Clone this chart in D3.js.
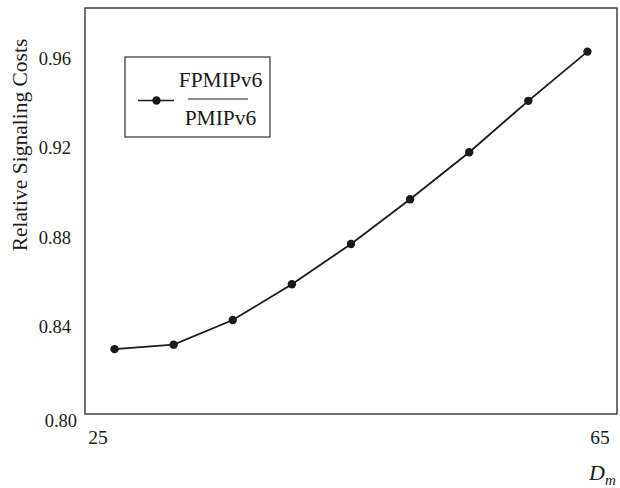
<!DOCTYPE html>
<html>
<head>
<meta charset="utf-8">
<script src="https://cdn.jsdelivr.net/npm/d3@7"></script>
<style>
  html, body { margin: 0; padding: 0; background: #fff; }
  svg { display: block; font-family: "Liberation Serif", "Times New Roman", serif; }
</style>
</head>
<body>
<svg id="chart" width="620" height="488"></svg>
<script>
// ---- data ----
const dmValues = [25, 30, 35, 40, 45, 50, 55, 60, 65];
const relativeCost = [0.829, 0.831, 0.842, 0.858, 0.876, 0.896, 0.917, 0.940, 0.962];
const yTickValues = [0.80, 0.84, 0.88, 0.92, 0.96];
const xTickValues = [25, 65];
const legendNumerator = "FPMIPv6";
const legendDenominator = "PMIPv6";
const yAxisTitle = "Relative Signaling Costs";

// ---- layout ----
const frame = { left: 85, right: 617, top: 8, bottom: 414 };
const svg = d3.select("#chart");
const ink = "#1a1a1a";

const x = d3.scaleLinear().domain([22.5, 67.5]).range([frame.left, frame.right]);
const y = d3.scaleLinear().domain([0.80, 0.9815]).range([frame.bottom, frame.top]);

// frame
svg.append("rect")
  .attr("x", frame.left).attr("y", frame.top)
  .attr("width", frame.right - frame.left).attr("height", frame.bottom - frame.top)
  .attr("fill", "none").attr("stroke", "#333").attr("stroke-width", 1.4);

// y axis
const yAxis = svg.append("g")
  .attr("transform", `translate(${frame.left},0)`)
  .call(d3.axisLeft(y).tickValues(yTickValues).tickFormat(d3.format(".2f")).tickSize(0).tickPadding(14));
yAxis.select(".domain").remove();
yAxis.selectAll("text")
  .attr("font-family", "Liberation Serif, serif")
  .attr("font-size", 18.5).attr("fill", ink)
  .attr("dy", d => d === 0.80 ? "0.65em" : "0.45em")
  .attr("x", d => d === 0.80 ? -8 : -14);

// x axis
const xAxis = svg.append("g")
  .attr("transform", `translate(0,${frame.bottom})`)
  .call(d3.axisBottom(x).tickValues(xTickValues).tickFormat(d3.format("d")).tickSize(0).tickPadding(16));
xAxis.select(".domain").remove();
xAxis.selectAll("text")
  .attr("font-family", "Liberation Serif, serif")
  .attr("font-size", 19.5).attr("fill", ink)
  .attr("x", d => d === 25 ? -17 : 12);

// y title
svg.append("text")
  .attr("transform", "translate(27,145) rotate(-90)")
  .attr("text-anchor", "middle")
  .attr("font-size", 21.5).attr("fill", ink)
  .text(yAxisTitle);

// x title D_m
const xt = svg.append("text")
  .attr("x", 589).attr("y", 480)
  .attr("font-style", "italic").attr("font-size", 22).attr("fill", ink);
xt.append("tspan").text("D");
xt.append("tspan").attr("font-size", 15).attr("dy", 5).text("m");

// line
const pts = dmValues.map((d, i) => [d, relativeCost[i]]);
svg.append("path")
  .datum(pts)
  .attr("fill", "none").attr("stroke", ink).attr("stroke-width", 1.8)
  .attr("d", d3.line().x(d => x(d[0])).y(d => y(d[1])));

svg.selectAll("circle.pt")
  .data(pts).enter().append("circle")
  .attr("class", "pt")
  .attr("cx", d => x(d[0])).attr("cy", d => y(d[1]))
  .attr("r", 4.2).attr("fill", ink);

// legend
const lg = svg.append("g");
lg.append("rect")
  .attr("x", 125).attr("y", 57).attr("width", 145).attr("height", 80)
  .attr("fill", "#fff").attr("stroke", "#333").attr("stroke-width", 1.2);
lg.append("line")
  .attr("x1", 138).attr("x2", 174).attr("y1", 100.5).attr("y2", 100.5)
  .attr("stroke", ink).attr("stroke-width", 1.6);
lg.append("circle").attr("cx", 156.5).attr("cy", 100.5).attr("r", 4.2).attr("fill", ink);
lg.append("text").attr("x", 220.5).attr("y", 87).attr("text-anchor", "middle")
  .attr("font-size", 21.5).attr("fill", ink).text(legendNumerator);
lg.append("line")
  .attr("x1", 188).attr("x2", 248).attr("y1", 99).attr("y2", 99)
  .attr("stroke", ink).attr("stroke-width", 1.2);
lg.append("text").attr("x", 220.5).attr("y", 125).attr("text-anchor", "middle")
  .attr("font-size", 21.5).attr("fill", ink).text(legendDenominator);
</script>
</body>
</html>
